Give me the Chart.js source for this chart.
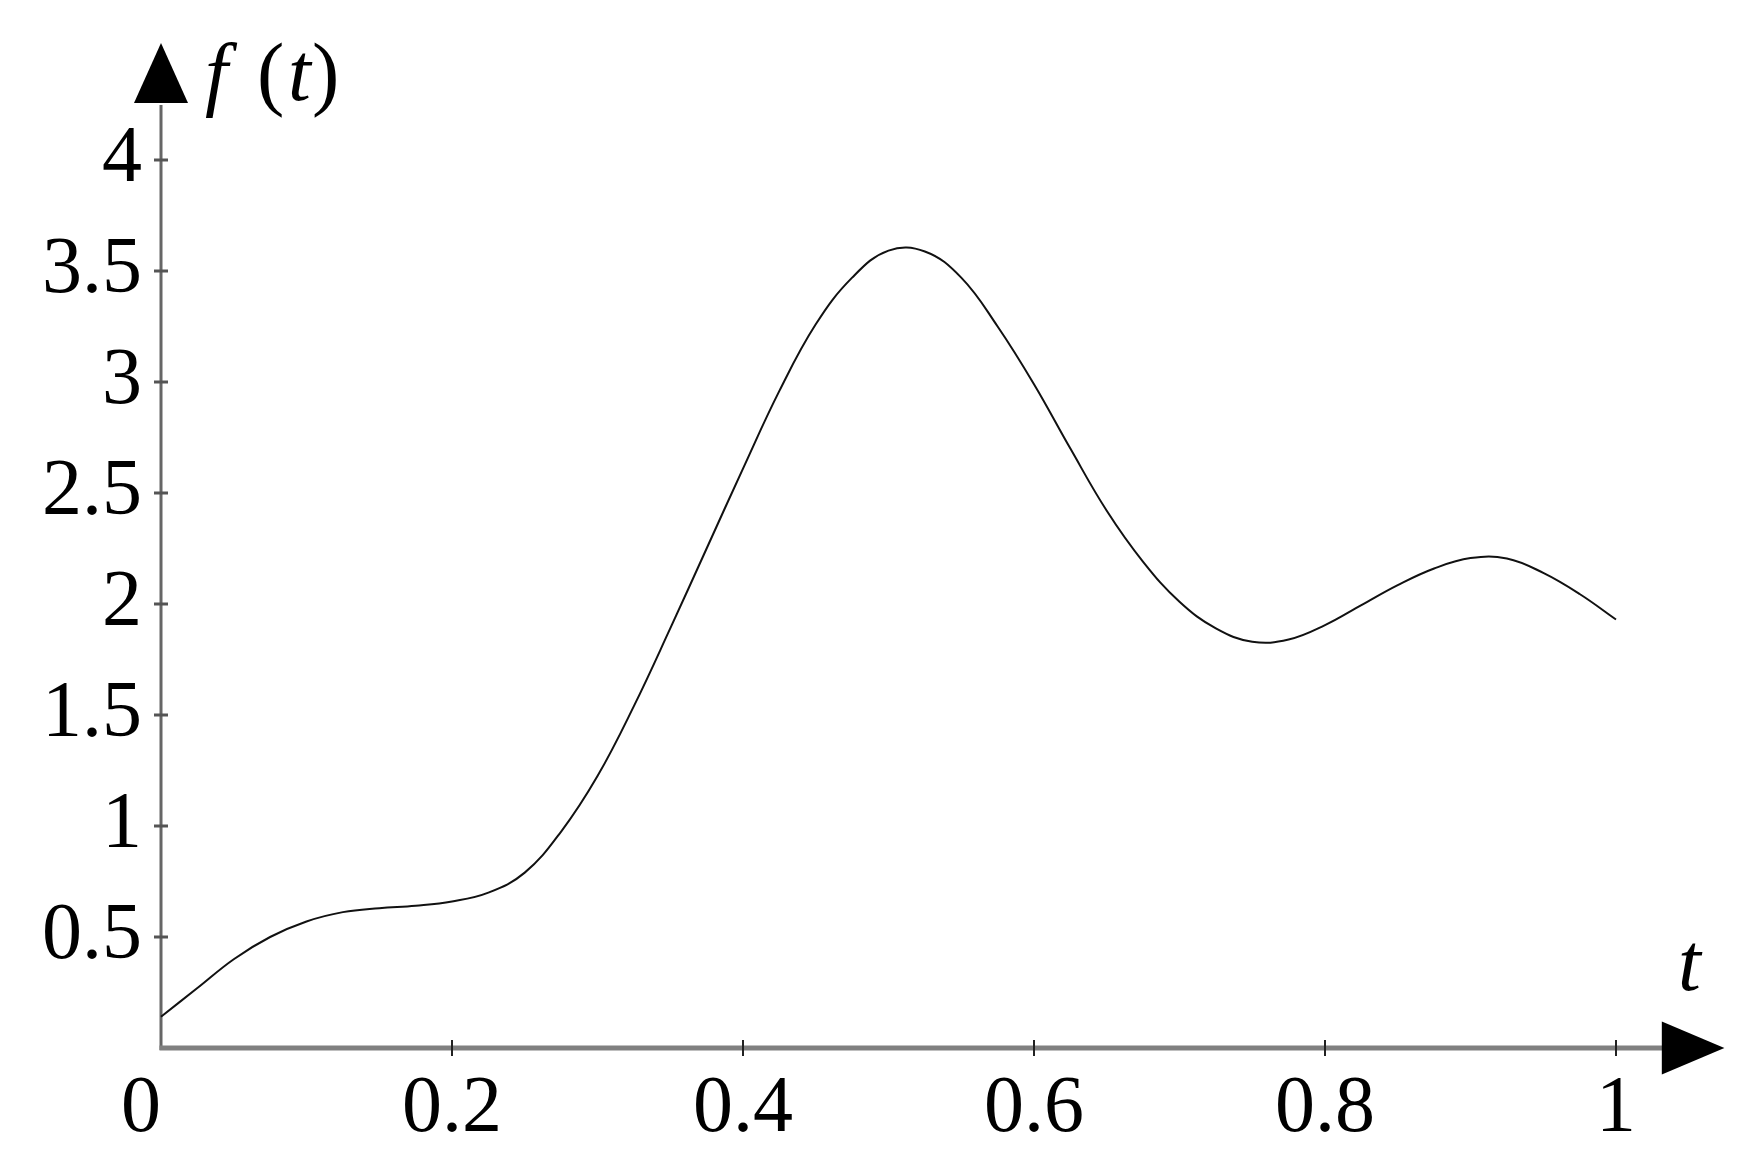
<!DOCTYPE html>
<html>
<head>
<meta charset="utf-8">
<script src="https://cdn.jsdelivr.net/npm/chart.js@4.4.1/dist/chart.umd.min.js"></script>
<style>
  html, body { margin: 0; padding: 0; background: #fff; }
  #wrap { width: 1745px; height: 1167px; }
</style>
</head>
<body>
<div id="wrap"><canvas id="c" width="1745" height="1167"></canvas></div>
<script>
// ---- data ----
const tValues = [0, 0.025, 0.05, 0.075, 0.1, 0.125, 0.15, 0.175, 0.2, 0.225, 0.25, 0.275, 0.3, 0.325, 0.35, 0.375, 0.4, 0.425, 0.45, 0.475, 0.5, 0.525, 0.55, 0.575, 0.6, 0.625, 0.65, 0.675, 0.7, 0.725, 0.75, 0.775, 0.8, 0.825, 0.85, 0.875, 0.9, 0.925, 0.95, 0.975, 1.0];
const fValues = [0.141, 0.27, 0.40, 0.50, 0.57, 0.612, 0.63, 0.641, 0.66, 0.70, 0.79, 0.975, 1.225, 1.54, 1.89, 2.25, 2.61, 2.96, 3.26, 3.47, 3.592, 3.588, 3.47, 3.25, 2.99, 2.70, 2.42, 2.19, 2.01, 1.89, 1.83, 1.84, 1.905, 1.995, 2.085, 2.16, 2.207, 2.205, 2.14, 2.045, 1.93];
const xTickValues = [0, 0.2, 0.4, 0.6, 0.8, 1];
const xTickLabels = ['0\u2002', '0.2', '0.4', '0.6', '0.8', '1'];
const yTickValues = [0.5, 1, 1.5, 2, 2.5, 3, 3.5, 4];
const yTickLabels = ['0.5', '1', '1.5', '2', '2.5', '3', '3.5', '4'];
const yAxisTitle = ['f', '(', 't', ')'];
const xAxisTitle = 't';

const SERIF = "'Liberation Serif', 'DejaVu Serif', serif";

const axesPlugin = {
  id: 'axesPlugin',
  beforeDatasetsDraw(chart) {
    const ctx = chart.ctx;
    const xs = chart.scales.x, ys = chart.scales.y;
    const x0 = xs.getPixelForValue(0), y0 = ys.getPixelForValue(0);
    const yTopBase = ys.getPixelForValue(4.257);
    const yTip = ys.getPixelForValue(4.527);
    const xRightBase = xs.getPixelForValue(1.0315);
    const xTip = xs.getPixelForValue(1.0745);
    ctx.save();
    // y axis line
    ctx.strokeStyle = '#666';
    ctx.lineWidth = 3;
    ctx.beginPath(); ctx.moveTo(x0, y0 + 2); ctx.lineTo(x0, yTopBase + 2); ctx.stroke();
    // x axis line
    ctx.strokeStyle = '#808080';
    ctx.lineWidth = 5;
    ctx.beginPath(); ctx.moveTo(x0 - 1.5, y0); ctx.lineTo(xRightBase + 2, y0); ctx.stroke();
    // arrows
    ctx.fillStyle = '#000';
    ctx.beginPath(); ctx.moveTo(x0, yTip); ctx.lineTo(x0 - 27, yTopBase); ctx.lineTo(x0 + 27, yTopBase); ctx.closePath(); ctx.fill();
    ctx.beginPath(); ctx.moveTo(xTip, y0); ctx.lineTo(xRightBase, y0 - 26.5); ctx.lineTo(xRightBase, y0 + 26.5); ctx.closePath(); ctx.fill();
    // y tick marks
    ctx.strokeStyle = '#555';
    ctx.lineWidth = 3;
    yTickValues.forEach(v => {
      const py = ys.getPixelForValue(v);
      ctx.beginPath(); ctx.moveTo(x0 - 7, py); ctx.lineTo(x0 + 7, py); ctx.stroke();
    });
    // x tick marks
    ctx.strokeStyle = '#222';
    ctx.lineWidth = 2;
    xTickValues.forEach(v => {
      if (v === 0) return;
      const px = xs.getPixelForValue(v);
      ctx.beginPath(); ctx.moveTo(px, y0 - 8); ctx.lineTo(px, y0 + 8); ctx.stroke();
    });
    // axis titles
    ctx.fillStyle = '#000';
    ctx.textBaseline = 'alphabetic';
    ctx.textAlign = 'left';
    const by = 100;
    ctx.font = 'italic 82px ' + SERIF;
    ctx.fillText(yAxisTitle[0], 205, by);
    ctx.font = '82px ' + SERIF;
    ctx.fillText(yAxisTitle[1], 257, by);
    ctx.font = 'italic 82px ' + SERIF;
    ctx.fillText(yAxisTitle[2], 288, by);
    ctx.font = '82px ' + SERIF;
    ctx.fillText(yAxisTitle[3], 312, by);
    ctx.font = 'italic 82px ' + SERIF;
    ctx.fillText(xAxisTitle, 1678, 990);
    ctx.restore();
  }
};

new Chart(document.getElementById('c'), {
  type: 'line',
  data: {
    datasets: [{
      data: tValues.map((t, i) => ({ x: t, y: fValues[i] })),
      borderColor: '#111',
      borderWidth: 2,
      pointRadius: 0,
      tension: 0.4,
      fill: false,
      clip: false
    }]
  },
  options: {
    responsive: false,
    animation: false,
    events: [],
    layout: { padding: { top: 160, right: 129, left: 0, bottom: 0 } },
    plugins: { legend: { display: false }, tooltip: { enabled: false } },
    scales: {
      x: {
        type: 'linear', min: 0, max: 1,
        afterBuildTicks: s => { s.ticks = xTickValues.map(v => ({ value: v })); },
        afterFit: s => { s.height = 119; },
        grid: { display: false, drawTicks: false },
        border: { display: false },
        ticks: {
          color: '#000', padding: 14, maxRotation: 0, autoSkip: false,
          font: { family: SERIF, size: 80 },
          callback: (v) => { const i = xTickValues.indexOf(v); return i >= 0 ? xTickLabels[i] : ''; }
        }
      },
      y: {
        type: 'linear', min: 0, max: 4,
        afterBuildTicks: s => { s.ticks = yTickValues.map(v => ({ value: v })); },
        afterFit: s => { s.width = 161; },
        grid: { display: false, drawTicks: false },
        border: { display: false },
        ticks: {
          color: '#000', padding: 19, autoSkip: false,
          font: { family: SERIF, size: 80 },
          callback: (v) => { const i = yTickValues.indexOf(v); return i >= 0 ? yTickLabels[i] : ''; }
        }
      }
    }
  },
  plugins: [axesPlugin]
});
</script>
</body>
</html>
